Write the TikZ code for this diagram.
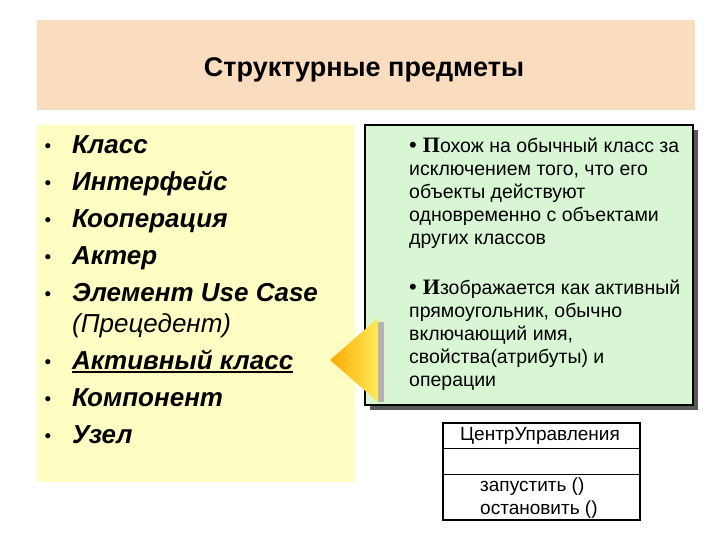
\documentclass[tikz,border=0pt]{standalone}
\usepackage{fontspec}
\setmainfont{Liberation Sans}
\newfontfamily\serfam{Liberation Serif}
\begin{document}
\begin{tikzpicture}[x=1pt,y=-1pt,
  litem/.style={anchor=base west,font=\fontsize{26}{30}\selectfont\bfseries\itshape,inner sep=0},
  bul/.style={anchor=base,font=\fontsize{19}{20}\selectfont,inner sep=0},
  gtext/.style={anchor=north west,font=\fontsize{19.5}{23}\selectfont,align=left,inner sep=0}]
\useasboundingbox (0,0) rectangle (720,540);
\fill[white] (0,0) rectangle (720,540);
\fill[fill={rgb,255:red,250;green,220;blue,190}] (37,20) rectangle (695,110);
\node (title) at (364,70) {\fontsize{27}{30}\selectfont\bfseries Структурные предметы};
\fill[fill={rgb,255:red,255;green,255;blue,196}] (37,125) rectangle (355,482);
\foreach \y/\t [count=\i] in {145/Класс,182/Интерфейс,218/Кооперация,255/Актер,292/Элемент Use Case,360/Активный класс,397/Компонент,434/Узел}{
  \node[bul] (b\i) at (48,\y+8) {•};
  \node[litem] (l\i) at (72,\y+9) {\t};
}
\node[litem,font=\fontsize{26}{30}\selectfont\itshape] (l9) at (72,332) {(Прецедент)};
\draw[line width=1.6pt] ([yshift=-3pt]l6.base west) -- ([yshift=-3pt]l6.base east);
\fill[gray!70!black] (370,130) rectangle (698,410);
\draw[line width=2pt,fill={rgb,255:red,216;green,246;blue,212}] (365,125) rectangle (693,405);
\node[gtext] (g1) at (409,138) {{\fontsize{22}{23}\selectfont•\hspace{6pt}\serfam\bfseries П}охож на обычный класс за\\исключением того, что его\\объекты действуют\\одновременно с объектами\\других классов};
\node[gtext] (g2) at (409,280) {{\fontsize{22}{23}\selectfont•\hspace{6pt}\serfam\bfseries И}зображается как активный\\прямоугольник, обычно\\включающий имя,\\свойства(атрибуты) и\\операции};
\fill[gray!60] (378,322) -- (384,322) -- (384,402) -- (378,402) -- cycle;
\shade[left color={rgb,255:red,255;green,170;blue,0},right color={rgb,255:red,255;green,235;blue,90}] (330,360) -- (378,318) -- (378,402) -- cycle;
\draw[line width=1.8pt] (443,423) rectangle (640,520);
\draw[line width=1pt] (443,448) -- (640,448) (443,474) -- (640,474);
\node[font=\fontsize{19}{20}\selectfont] (cn) at (540,436) {ЦентрУправления};
\node[anchor=west,align=left,inner sep=0,font=\fontsize{19}{23}\selectfont] (ops) at (480,498) {запустить ()\\остановить ()};
\end{tikzpicture}
\end{document}
